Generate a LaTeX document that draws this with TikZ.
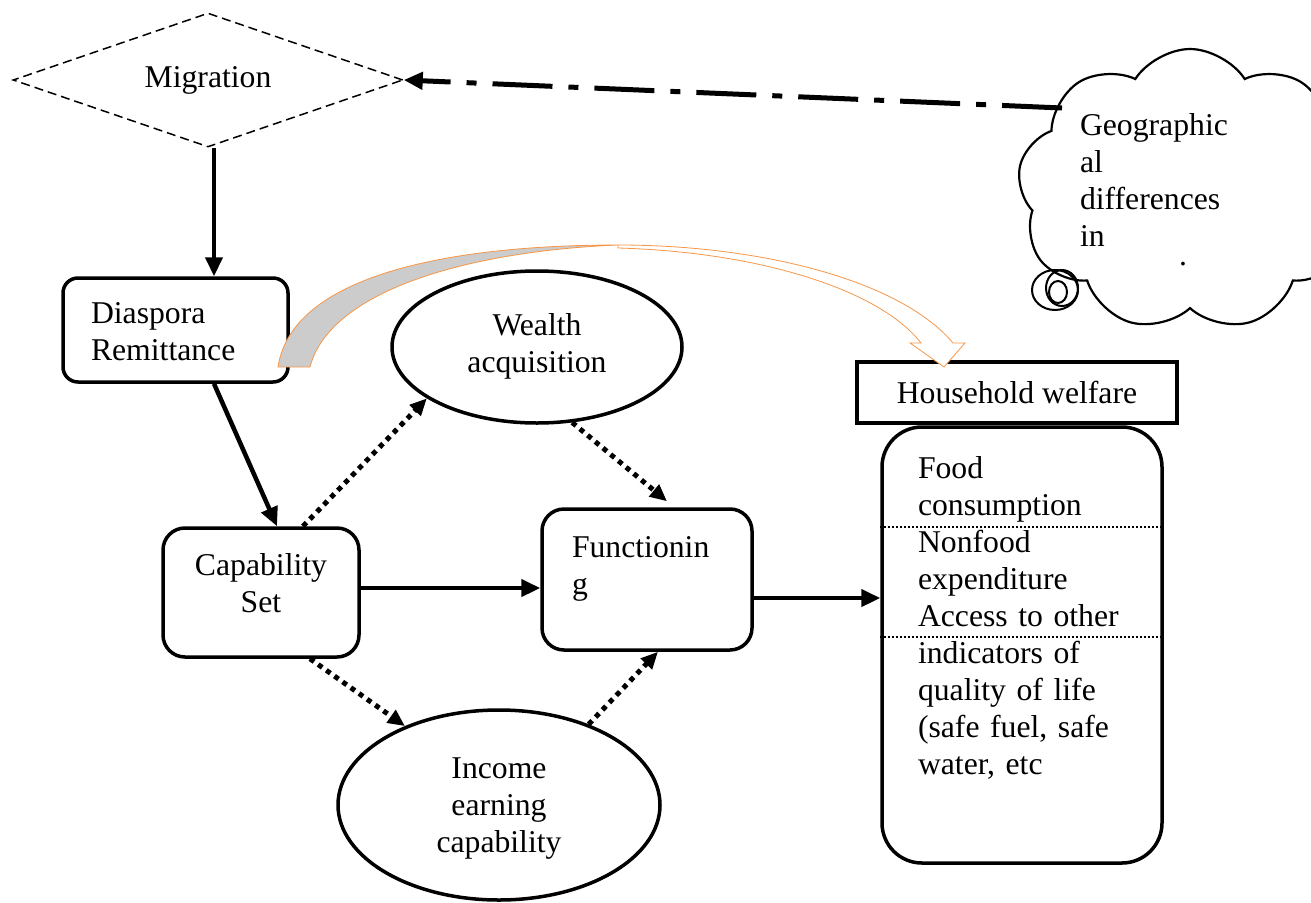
\documentclass[tikz,border=0pt]{standalone}
\usepackage{fontspec}
\setmainfont{Liberation Serif}
\usetikzlibrary{arrows.meta,positioning,shapes.geometric,shapes.symbols}
\definecolor{arcorange}{RGB}{247,150,70}
\tikzset{
    %Define standard arrow tip
    >={Triangle[length=19pt,width=17pt]},
    %Define style for boxes
    rbox/.style={
           rectangle,
           draw=black,
           line width=3.5pt,
           inner sep=0pt,
           text height=22pt},
    %Define style for the ovals
    oval/.style={
           ellipse,
           draw=black,
           line width=3.5pt,
           inner sep=0pt,
           text height=22pt,
           text width=200pt,
           align=center},
    % Define arrow styles
    pil/.style={
           ->,
           line width=4.5pt},
    dotpil/.style={
           -{Triangle[length=17pt,width=15pt]},
           line width=5pt,
           dash pattern=on 5pt off 5pt},
    dashdotpil/.style={
           ->,
           line width=5pt,
           dash pattern=on 60pt off 16pt on 10pt off 16pt},
    sepline/.style={
           line width=2pt,
           dash pattern=on 2pt off 2pt}
}

\begin{document}
\begin{tikzpicture}[x=1pt,y=-1pt,
    every node/.style={font=\fontsize{31.7pt}{37pt}\selectfont}]
  \useasboundingbox (0,0) rectangle (1311,902);
  % migration and the cloud
  \node[diamond,draw,line width=1.5pt,dash pattern=on 9pt off 5pt,aspect=2.9,
        minimum width=390pt,minimum height=134pt,inner sep=0pt] (migr) at (208,80) {Migration};
  \node[cloud,draw,line width=2.2pt,cloud puffs=9,cloud puff arc=115,cloud ignores aspect,
        minimum width=345pt,minimum height=282pt,inner sep=0pt,text width=220pt,align=left,
        text height=22pt,text depth=132pt] (geo) at (1190,190) {Geographic\\al\\differences\\in};
  \node (dot) at (1183,264) {.};
  \draw[line width=2pt] (1055,290) ellipse [x radius=23, y radius=20];
  \draw[line width=2pt] (1062,288) ellipse [x radius=16, y radius=18];
  \draw[line width=2pt] (1058,292) ellipse [x radius=9, y radius=11];
  \coordinate (geoout) at (1062,108);
  \draw[dashdotpil] (geoout) -- (migr.east);
  % boxes
  \node[rbox,rounded corners=15pt,minimum width=225pt,minimum height=104pt,
        text width=169pt,align=left,text depth=36pt] (dias) at (175.5,330) {Diaspora\\Remittance};
  \node[rbox,rounded corners=22pt,minimum width=196pt,minimum height=129pt,
        text width=170pt,align=center,text depth=57pt] (cap) at (261,592.5) {Capability\\Set};
  \node[rbox,rounded corners=22pt,minimum width=210pt,minimum height=141pt,
        text width=150pt,align=left,text depth=67pt] (func) at (647,579.5) {Functionin\\g};
  \node[oval,minimum width=290pt,minimum height=152pt,text depth=46pt] (wealth) at (537,347) {Wealth\\acquisition};
  \node[oval,minimum width=322pt,minimum height=190pt,text depth=76pt] (inc) at (499,805) {Income\\earning\\capability};
  \node[rbox,minimum width=320pt,minimum height=61pt] (hw) at (1017,392.5) {Household welfare};
  \node[rbox,rounded corners=40pt,minimum width=280pt,minimum height=436pt,
        text width=208pt,align=left,text depth=356pt] (qual) at (1022,645)
        {Food\\consumption\\Nonfood\\expenditure\\Access to other\\indicators of\\quality of life\\(safe fuel, safe\\water, etc};
  \coordinate (sep1) at (0,527);
  \coordinate (sep2) at (0,637);
  \draw[sepline] (qual.west |- sep1) -- (qual.east |- sep1);
  \draw[sepline] (qual.west |- sep2) -- (qual.east |- sep2);
  % curved arrow from remittance to welfare
  \draw[draw=arcorange,fill=gray!40,line width=0.8pt]
    (278,367) .. controls (292,275) and (450,245) .. (618,245)
    .. controls (470,251) and (330,290) .. (310,367) -- cycle;
  \draw[draw=arcorange,fill=white,line width=0.8pt]
    (618,245) .. controls (760,245) and (900,280) .. (953,343)
    -- (965,343) -- (944,367) -- (910,343) -- (921,343)
    .. controls (880,290) and (760,252) .. (618,248) -- cycle;
  % connectors
  \draw[pil] ([xshift=6pt]migr.south) coordinate (migrout) -- (migrout |- dias.north);
  \draw[pil] (migrout |- dias.south) -- ([xshift=16pt]cap.north);
  \draw[pil] ([yshift=4.5pt]cap.east) coordinate (capout) -- (capout -| func.west);
  \draw[pil] ([yshift=-18.5pt]func.east) coordinate (funcout) -- (funcout -| qual.west);
  \draw[dotpil] ([xshift=42pt]cap.north) -- (wealth.205);
  \draw[dotpil] (wealth.295) -- ([xshift=20pt,yshift=6pt]func.north);
  \draw[dotpil] ([xshift=49pt]cap.south) -- (inc.140);
  \draw[dotpil] (inc.42) -- ([xshift=11pt]func.south);
\end{tikzpicture}
\end{document}
